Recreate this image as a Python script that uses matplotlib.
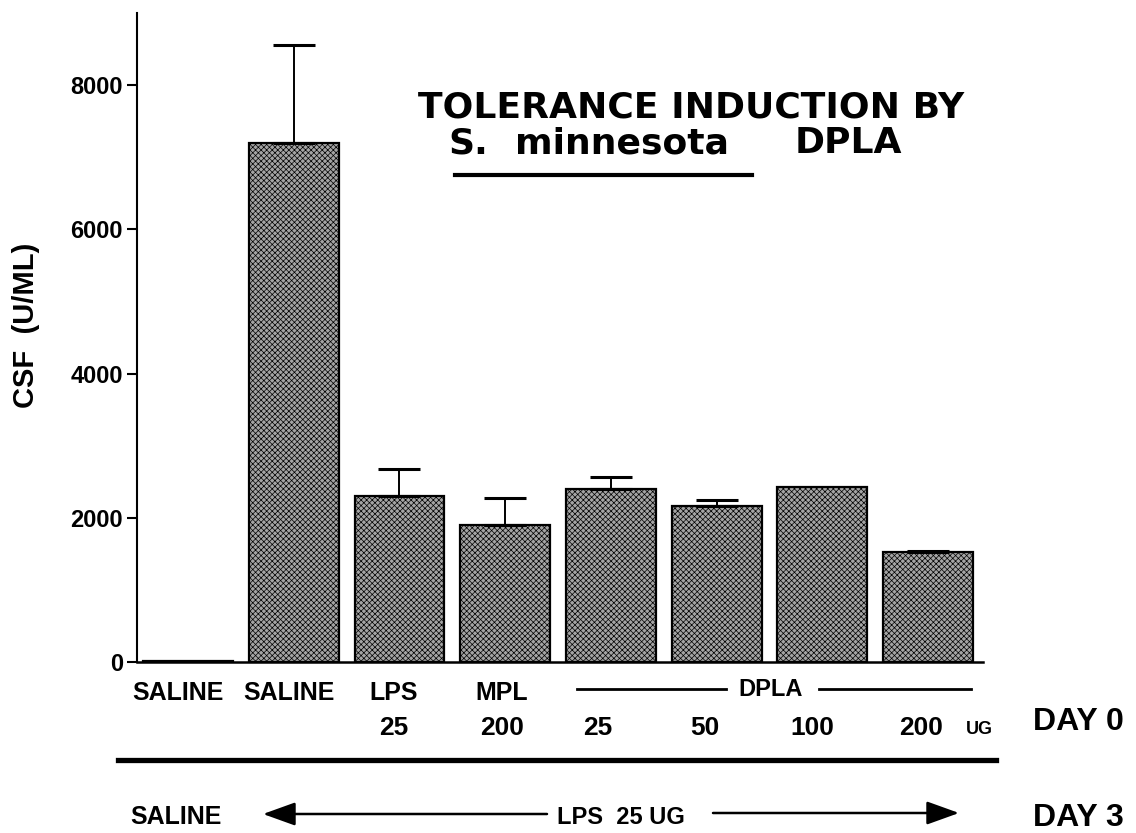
#!/usr/bin/env python3
"""Tolerance induction by S. minnesota DPLA - CSF bar chart."""

import matplotlib
matplotlib.use("Agg")
import matplotlib.pyplot as plt
from matplotlib.lines import Line2D
from matplotlib.patches import FancyArrowPatch
import numpy as np

# data
groups = ["SALINE", "SALINE", "LPS", "MPL", "DPLA", "DPLA", "DPLA", "DPLA"]
doses = ["", "", "25", "200", "25", "50", "100", "200"]
csf = [20, 7200, 2300, 1900, 2400, 2160, 2420, 1520]
csf_err = [None, 1350, 370, 380, 160, 80, None, 20]
yticks = [0, 2000, 4000, 6000, 8000]

W, H = 1136, 833
FONT = ["Liberation Sans", "DejaVu Sans"]
plt.rcParams["font.family"] = FONT
plt.rcParams["font.weight"] = "bold"
plt.rcParams["hatch.color"] = "#333333"
plt.rcParams["hatch.linewidth"] = 0.5


def fx(px):
    return px / W


def fy(py):
    return 1 - py / H


fig = plt.figure(figsize=(W / 100, H / 100), dpi=100)
ax = fig.add_axes([fx(137), fy(662), fx(983) - fx(137), fy(13) - fy(662)])

x = np.arange(len(csf))
ax.bar(x, csf, width=0.85, color="#a4a4a4", edgecolor="black", linewidth=1.6,
       hatch="xxxxxx", zorder=2)

has_err = [i for i, e in enumerate(csf_err) if e is not None]
ax.errorbar(x[has_err], [csf[i] for i in has_err],
            yerr=[[0] * len(has_err), [csf_err[i] for i in has_err]],
            fmt="none", ecolor="black", elinewidth=1.4, capsize=15, capthick=2.2,
            zorder=3)

ax.set_xlim(-0.4825, 7.52)
ax.set_ylim(0, 9000)
ax.set_yticks(yticks)
ax.set_yticklabels([str(t) for t in yticks], fontsize=17, fontweight="bold")
ax.set_xticks([])
ax.tick_params(axis="y", direction="out", length=7, width=1.5, pad=3)
for side in ("top", "right"):
    ax.spines[side].set_visible(False)
ax.spines["left"].set_linewidth(1.5)
ax.spines["bottom"].set_linewidth(1.8)

fig.text(fx(26), fy(325), "CSF  (U/ML)", rotation=90, ha="center", va="center",
         fontsize=21, fontweight="bold")

# title
tfont = dict(family="DejaVu Sans", fontweight="bold", fontsize=26, va="baseline")
fig.text(fx(418), fy(118), "TOLERANCE INDUCTION BY", ha="left", **tfont)
fig.text(fx(448), fy(153), "S.", ha="left", **tfont)
fig.text(fx(515), fy(153), "minnesota", ha="left", **tfont)
fig.text(fx(902), fy(153), "DPLA", ha="right", **tfont)
fig.add_artist(Line2D([fx(455), fx(752)], [fy(175), fy(175)], color="black", lw=3))

# treatment labels under the bars (day 0)
row1_x = [178, 289, 394, 502]
for label, px in zip(groups[:4], row1_x):
    fig.text(fx(px), fy(700), label, ha="center", va="baseline", fontsize=18)
fig.text(fx(771), fy(696), groups[4], ha="center", va="baseline", fontsize=17)
fig.add_artist(Line2D([fx(577), fx(726)], [fy(689), fy(689)], color="black", lw=2))
fig.add_artist(Line2D([fx(819), fx(971)], [fy(689), fy(689)], color="black", lw=2))

dose_x = [None, None, 394, 502, 598, 705, 812, 921]
for label, px in zip(doses, dose_x):
    if label:
        fig.text(fx(px), fy(735), label, ha="center", va="baseline", fontsize=19)
fig.text(fx(966), fy(734), "UG", ha="left", va="baseline", fontsize=13)
fig.text(fx(1033), fy(730), "DAY 0", ha="left", va="baseline", fontsize=23)

fig.add_artist(Line2D([fx(118), fx(996)], [fy(760), fy(760)], color="black", lw=3.8))

# day 3 challenge
fig.text(fx(130), fy(824), "SALINE", ha="left", va="baseline", fontsize=18)
fig.text(fx(557), fy(824), "LPS  25 UG", ha="left", va="baseline", fontsize=17)
fig.text(fx(1033), fy(826), "DAY 3", ha="left", va="baseline", fontsize=23)
arrow = dict(arrowstyle="-|>,head_length=1.0,head_width=0.36", color="black",
             lw=1.8, mutation_scale=20, shrinkA=0, shrinkB=0)
fig.add_artist(FancyArrowPatch((fx(547), fy(814)), (fx(263), fy(814)),
                               transform=fig.transFigure, **arrow))
fig.add_artist(FancyArrowPatch((fx(713), fy(813)), (fx(959), fy(813)),
                               transform=fig.transFigure, **arrow))

fig.savefig("out.png", dpi=100)
plt.close(fig)
